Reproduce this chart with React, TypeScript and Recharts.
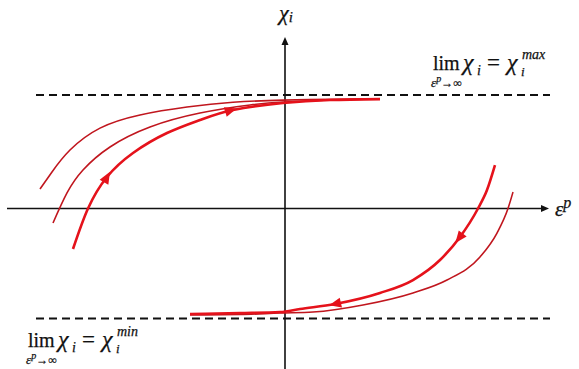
import React from 'react';
import { LineChart, Line, XAxis, YAxis, ReferenceLine, ReferenceDot } from 'recharts';

const WIDTH = 579;
const HEIGHT = 369;

// Saturation levels of the back-stress component
const CHI_MAX = 1;
const CHI_MIN = -0.97;

// Forward-loading branches (χ_i rising towards χ_i^max)
const forwardOuter = [
  { x: -2.45, y: 0.172 }, { x: -2.33, y: 0.322 }, { x: -2.15, y: 0.515 }, { x: -1.85, y: 0.708 },
  { x: -1.45, y: 0.824 }, { x: -0.98, y: 0.894 }, { x: -0.52, y: 0.936 }, { x: -0.02, y: 0.955 },
  { x: 0.45, y: 0.962 }, { x: 0.95, y: 0.966 },
];
const forwardMiddle = [
  { x: -2.32, y: -0.128 }, { x: -2.18, y: 0.137 }, { x: -2.02, y: 0.339 }, { x: -1.75, y: 0.542 },
  { x: -1.35, y: 0.718 }, { x: -0.85, y: 0.841 }, { x: -0.35, y: 0.912 }, { x: -0.02, y: 0.938 },
  { x: 0.45, y: 0.956 }, { x: 0.95, y: 0.965 },
];
const forwardMain = [
  { x: -2.12, y: -0.357 }, { x: -1.97, y: 0.0 }, { x: -1.78, y: 0.278 }, { x: -1.52, y: 0.489 },
  { x: -1.18, y: 0.665 }, { x: -0.85, y: 0.78 }, { x: -0.52, y: 0.868 }, { x: -0.02, y: 0.93 },
  { x: 0.45, y: 0.956 }, { x: 0.95, y: 0.964 },
];

// Reverse-loading branches (χ_i falling towards χ_i^min)
const reverseMain = [
  { x: -0.95, y: -0.93 }, { x: -0.45, y: -0.921 }, { x: -0.05, y: -0.912 }, { x: 0.15, y: -0.885 },
  { x: 0.5, y: -0.841 }, { x: 0.95, y: -0.744 }, { x: 1.28, y: -0.63 }, { x: 1.55, y: -0.454 },
  { x: 1.75, y: -0.251 }, { x: 1.93, y: 0.0 }, { x: 2.02, y: 0.163 }, { x: 2.1, y: 0.383 },
];
const reverseOuter = [
  { x: -0.95, y: -0.938 }, { x: -0.45, y: -0.934 }, { x: -0.05, y: -0.921 }, { x: 0.28, y: -0.912 },
  { x: 0.78, y: -0.85 }, { x: 1.28, y: -0.744 }, { x: 1.62, y: -0.63 }, { x: 1.95, y: -0.427 },
  { x: 2.12, y: -0.216 }, { x: 2.23, y: 0.0 }, { x: 2.28, y: 0.145 },
];

// Direction markers along the loading paths
const flowArrows = [
  { x: -1.78, y: 0.278, angle: -60 },
  { x: -0.54, y: 0.866, angle: -17 },
  { x: 1.74, y: -0.262, angle: 128 },
  { x: 0.5, y: -0.841, angle: 167 },
];

const X_DOMAIN: [number, number] = [-2.85, 2.94];
const Y_DOMAIN: [number, number] = [-1.414, 1.837];

const AXIS_X_START = -2.78;
const AXIS_X_END = 2.64;
const AXIS_Y_END = 1.511;
const DASH_X_START = -2.49;
const DASH_X_END = 2.65;

const THICK = '#e5121b';
const THIN = '#c0161e';
const INK = '#111111';
const SERIF = '"Liberation Serif", "DejaVu Serif", serif';

const arrowHead = (angle: number, fill: string, len = 12, half = 5, tipAtPoint = false) =>
  (props: any) => {
    const { cx, cy } = props;
    const back = tipAtPoint ? -len : -len / 2;
    const tip = tipAtPoint ? 0 : len / 2;
    return (
      <polygon
        points={`${tip},0 ${back},${-half} ${back},${half}`}
        fill={fill}
        transform={`translate(${cx},${cy}) rotate(${angle})`}
      />
    );
  };

// lim_{ε^p→∞} χ_i = χ_i^{bound}, typeset as one text block
const limitFormula = (bound: string) => (props: any) => {
  const { cx, cy } = props;
  return (
    <text fontFamily={SERIF} fill={INK} stroke={INK} strokeWidth={0.25}>
      <tspan x={cx} y={cy} fontSize={20}>lim</tspan>
      <tspan x={cx - 2} y={cy + 17} fontSize={13} fontStyle="italic">ε</tspan>
      <tspan y={cy + 12} fontSize={10} fontStyle="italic">p</tspan>
      <tspan y={cy + 17} fontSize={12}>→∞</tspan>
      <tspan x={cx + 30} y={cy} fontSize={24} fontStyle="italic">χ</tspan>
      <tspan x={cx + 44} y={cy + 5} fontSize={14} fontStyle="italic">i</tspan>
      <tspan x={cx + 54} y={cy} fontSize={23}>=</tspan>
      <tspan x={cx + 74} y={cy} fontSize={24} fontStyle="italic">χ</tspan>
      <tspan x={cx + 88} y={cy + 6} fontSize={13} fontStyle="italic">i</tspan>
      <tspan x={cx + 89} y={cy - 11} fontSize={14} fontStyle="italic">{bound}</tspan>
    </text>
  );
};

const chiLabel = (props: any) => {
  const { cx, cy } = props;
  return (
    <text x={cx} y={cy} fontFamily={SERIF} fill={INK} stroke={INK} strokeWidth={0.25} fontStyle="italic">
      <tspan fontSize={22}>χ</tspan>
      <tspan fontSize={15} dy={2}>i</tspan>
    </text>
  );
};

const epsLabel = (props: any) => {
  const { cx, cy } = props;
  return (
    <text x={cx} y={cy} fontFamily={SERIF} fill={INK} stroke={INK} strokeWidth={0.25} fontStyle="italic">
      <tspan fontSize={21}>ε</tspan>
      <tspan fontSize={16} dy={-8}>p</tspan>
    </text>
  );
};

export default function App() {
  return (
    <div style={{ position: 'absolute', left: 0, top: 0, width: WIDTH, height: HEIGHT, background: '#fff' }}>
      <LineChart width={WIDTH} height={HEIGHT} margin={{ top: 0, right: 0, bottom: 0, left: 0 }}>
        <XAxis type="number" dataKey="x" domain={X_DOMAIN} allowDataOverflow hide />
        <YAxis type="number" dataKey="y" domain={Y_DOMAIN} allowDataOverflow hide />

        {/* saturation limits */}
        <ReferenceLine
          segment={[{ x: DASH_X_START, y: CHI_MAX }, { x: DASH_X_END, y: CHI_MAX }]}
          stroke={INK}
          strokeWidth={2}
          strokeDasharray="8 5"
        />
        <ReferenceLine
          segment={[{ x: DASH_X_START, y: CHI_MIN }, { x: DASH_X_END, y: CHI_MIN }]}
          stroke={INK}
          strokeWidth={2}
          strokeDasharray="8 5"
        />

        {/* coordinate axes */}
        <ReferenceLine
          segment={[{ x: AXIS_X_START, y: 0 }, { x: AXIS_X_END - 0.05, y: 0 }]}
          stroke={INK}
          strokeWidth={1.6}
        />
        <ReferenceLine
          segment={[{ x: 0, y: Y_DOMAIN[0] }, { x: 0, y: AXIS_Y_END - 0.05 }]}
          stroke={INK}
          strokeWidth={1.6}
        />
        <ReferenceDot x={AXIS_X_END} y={0} r={0} shape={arrowHead(0, INK, 8, 3.5, true)} />
        <ReferenceDot x={0} y={AXIS_Y_END} r={0} shape={arrowHead(-90, INK, 8, 3.5, true)} />

        <Line data={forwardOuter} dataKey="y" type="natural" stroke={THIN} strokeWidth={1.6} dot={false} activeDot={false} isAnimationActive={false} />
        <Line data={forwardMiddle} dataKey="y" type="natural" stroke={THIN} strokeWidth={1.6} dot={false} activeDot={false} isAnimationActive={false} />
        <Line data={forwardMain} dataKey="y" type="natural" stroke={THICK} strokeWidth={2.6} dot={false} activeDot={false} isAnimationActive={false} />
        <Line data={reverseOuter} dataKey="y" type="monotone" stroke={THIN} strokeWidth={1.6} dot={false} activeDot={false} isAnimationActive={false} />
        <Line data={reverseMain} dataKey="y" type="monotone" stroke={THICK} strokeWidth={2.6} dot={false} activeDot={false} isAnimationActive={false} />

        {flowArrows.map((a, i) => (
          <ReferenceDot key={i} x={a.x} y={a.y} r={0} shape={arrowHead(a.angle, THICK)} />
        ))}

        <ReferenceDot x={-0.06} y={1.661} r={0} shape={chiLabel} />
        <ReferenceDot x={2.7} y={-0.066} r={0} shape={epsLabel} />
        <ReferenceDot x={1.48} y={1.22} r={0} shape={limitFormula('max')} />
        <ReferenceDot x={-2.57} y={-1.22} r={0} shape={limitFormula('min')} />
      </LineChart>
    </div>
  );
}
